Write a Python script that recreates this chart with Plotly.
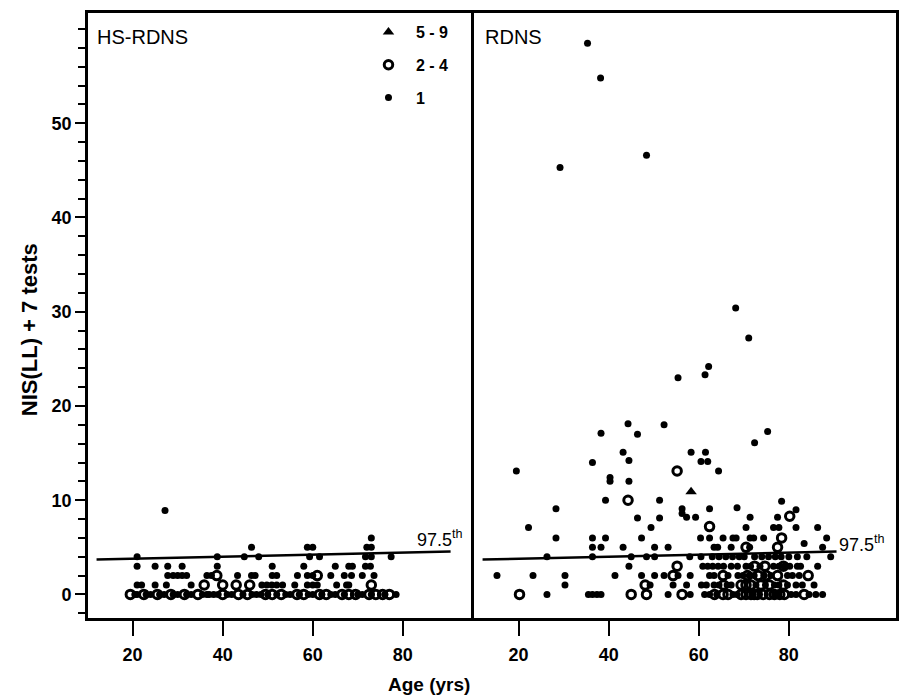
import plotly.graph_objects as go

# ---------------- data (Age in years, NIS(LL)+7 tests) ----------------
# HS-RDNS panel: single observations ("1")
hs_age_1 = [20.5, 21, 23, 24, 26, 27, 29, 30, 32, 33, 35.5, 36.5, 37, 38, 39, 41, 42, 44.5,
            46.5, 47.5, 48.5, 50, 52, 54, 55, 57, 59, 60, 62, 64, 65, 67, 70, 71, 73, 76, 78.5,
            21, 22, 25, 27.5, 33, 48.7, 49.8, 50.9, 52, 53.3, 56, 58.8, 60, 61, 65.3, 67.5, 68,
            27.8, 29, 30, 31, 32, 36.5, 37.5, 43.3, 46.4, 47.2, 51, 52, 56.6, 58.8, 60, 64, 67,
            68.6, 71, 73.6,
            21, 25, 27.8, 31, 38.8, 51, 58, 65, 68, 68.8, 71.7, 72.8,
            21, 38.8, 44.8, 48, 59.3, 61.5, 71.7, 73, 77.4,
            46.4, 58.8, 60, 72, 73, 73, 27.2]
hs_nis_1 = [0] * 37 + [1] * 17 + [2] * 20 + [3] * 12 + [4] * 9 + [5, 5, 5, 5, 5, 6, 8.9]
# HS-RDNS panel: 2-4 coincident observations
hs_age_2 = [19.5, 22.5, 25.5, 28.5, 31.5, 34.5, 40, 43.5, 45.5, 49.5, 51, 53, 56.5, 58, 61.5,
            63, 66.5, 68, 69.5, 72.5, 74, 75.5, 77,
            35.9, 40, 43, 46, 73,
            38.7, 61]
hs_nis_2 = [0] * 23 + [1] * 5 + [2] * 2

# RDNS panel: single observations
rd_age_1 = [35.3, 38.2, 48.4, 29.2, 68.2, 71.1, 62.2, 61.4, 55.4,
            44.3, 52.3, 38.3, 46.4, 75.3, 72.4, 43.2, 44.5, 58.3, 61.5, 60.5, 62, 36.4, 19.5,
            64.4, 40.3, 40.3, 44.5, 39.3, 51.3, 28.3, 56.3, 56.3, 57.3, 62.4, 68.5, 78.4, 81.6,
            22.2, 46.4, 51.3, 59.3, 71.4, 77.5, 49.4, 70.5, 76.6, 77.8, 81.6, 86.4,
            28.3, 36.4, 39.3, 47.3, 60.4, 62.4, 65.4, 67.6, 68.3, 71.4, 72.2, 74.4, 88.4,
            36.4, 38.3, 43.2, 50.2, 53.2, 63.4, 64.2, 67.2, 71.3, 83.4, 87.5,
            26.3, 36.4, 45, 48.4, 50.2, 58, 63, 66, 70.1, 72.4, 78.3, 81.9, 89.3,
            60.5, 64.5, 67.5, 69, 74, 75.5, 77, 80, 84,
            44.5, 60.9, 62, 63.1, 67.2, 70.5, 77.8, 81.9, 82.6, 86.4,
            64.3, 65.5, 68.6, 71.5, 73.6, 76.6, 79, 80.2,
            15.2, 23.2, 30.3, 41.4, 47.3, 50.2, 52.3, 55.4, 58.1, 62.4, 63.4, 66.5, 68.7, 79.7, 82.3,
            69.8, 71.2, 72.3, 74.5, 76, 80.8,
            30.3, 49.2, 54.3, 57.3, 60.6, 61.7, 63.4, 67.2, 77.8, 79.7, 81.6, 85.6,
            64.5, 66.3, 72.7, 74.8, 76.8, 83,
            26.3, 35.5, 36.4, 37.4, 38.3, 53.2, 58.1, 61.3, 62.4, 67.6, 76.9, 86, 87.5,
            64, 68.5, 72, 77.8, 80.5, 81.6, 84.5]
rd_nis_1 = [58.5, 54.8, 46.6, 45.3, 30.4, 27.2, 24.2, 23.3, 23.0,
            18.1, 18.0, 17.1, 17.0, 17.3, 16.1, 15.1, 14.2, 15.1, 15.1, 14.1, 14.1, 14.0, 13.1,
            13.1, 12.4, 12.0, 12.0, 10, 10, 9.1, 9.1, 8.6, 8.2, 9.1, 9.2, 9.9, 9.0,
            7.1, 8.1, 8.1, 8.2, 8.2, 8.2, 7.1, 7.1, 7.1, 7.1, 7.1, 7.1,
            6, 6, 6, 6, 6, 6, 6, 6, 6, 6, 6, 6, 6,
            5, 5, 5, 5, 5, 5, 5, 5, 5, 5.4, 5,
            4, 4, 4, 4, 4, 4, 4, 4, 4, 4, 4, 4, 4,
            4, 4, 4, 4, 4, 4, 4, 4, 4,
            3, 3, 3, 3, 3, 3, 3, 3, 3, 3,
            3, 3, 3, 3, 3, 3, 3, 3,
            2, 2, 2, 2, 2, 2, 2, 2, 2, 2, 2, 2, 2, 2, 2,
            2, 2, 2, 2, 2, 2,
            1, 1, 1, 1, 1, 1, 1, 1, 1, 1, 1, 1,
            1, 1, 1, 1, 1, 1,
            0, 0, 0, 0, 0, 0, 0, 0, 0, 0, 0, 0, 0,
            0, 0, 0, 0, 0, 0, 0]
# RDNS panel: 2-4 coincident observations
rd_age_2 = [55.2, 44.3, 80.2, 62.4, 78.4, 70.5, 77.5, 55.2, 72.4, 74.7, 78.8,
            54.3, 65.4, 73.2, 77.5, 84.3, 70.8, 75,
            48.1, 69.4, 70.5, 71.6, 73.8, 75.7, 65.5, 78.8,
            20.2, 45, 48.4, 56.3, 65.4, 66.5, 69.4, 70.5, 71.6, 73, 74.3, 75.7, 79, 83.4,
            63.5, 72.3, 76.8, 78]
rd_nis_2 = [13.1, 10, 8.3, 7.2, 6, 5, 5, 3, 3, 3, 3,
            2, 2, 2, 2, 2, 2, 2,
            1, 1, 1, 1, 1, 1, 1, 1,
            0, 0, 0, 0, 0, 0, 0, 0, 0, 0, 0, 0, 0, 0,
            0, 0, 0, 0]
# RDNS panel: 5-9 coincident observations
rd_age_5 = [58.3]
rd_nis_5 = [10.9]

# 97.5th percentile line
ref_age = [12, 90.6]
ref_nis = [3.7, 4.55]

group_labels = ["5 - 9", "2 - 4", "1"]
panel_titles = ["HS-RDNS", "RDNS"]
x_ticks = [20, 40, 60, 80]

FONT = "Liberation Sans, Arial, sans-serif"

fig = go.Figure()

single = dict(symbol="circle", size=7, color="black")
multi = dict(symbol="circle-open", size=8.5, color="black", line=dict(width=3, color="black"))
tri = dict(symbol="triangle-up", size=10, color="black")

# left panel
fig.add_trace(go.Scatter(x=hs_age_1, y=hs_nis_1, mode="markers", marker=single,
                         xaxis="x", yaxis="y", showlegend=False))
fig.add_trace(go.Scatter(x=hs_age_2, y=hs_nis_2, mode="markers", marker=multi,
                         xaxis="x", yaxis="y", showlegend=False))
fig.add_trace(go.Scatter(x=ref_age, y=ref_nis, mode="lines", line=dict(color="black", width=2.6),
                         xaxis="x", yaxis="y", showlegend=False))
# right panel
fig.add_trace(go.Scatter(x=rd_age_5, y=rd_nis_5, mode="markers", marker=tri, name=group_labels[0],
                         xaxis="x2", yaxis="y2", legendgroup="a"))
fig.add_trace(go.Scatter(x=rd_age_2, y=rd_nis_2, mode="markers", marker=multi, name=group_labels[1],
                         xaxis="x2", yaxis="y2", legendgroup="b"))
fig.add_trace(go.Scatter(x=rd_age_1, y=rd_nis_1, mode="markers", marker=single, name=group_labels[2],
                         xaxis="x2", yaxis="y2", legendgroup="c"))
fig.add_trace(go.Scatter(x=ref_age, y=ref_nis, mode="lines", line=dict(color="black", width=2.6),
                         xaxis="x2", yaxis="y2", showlegend=False))

W, H = 899, 695
ml, mr, mt, mb = 88, 0, 13, 77
pw = W - ml - mr
ph = H - mt - mb
split = (475 - ml) / pw

def px_x(p):
    return (p - ml) / pw

def px_y(p):
    return (H - mb - p) / ph

xcommon = dict(showline=True, linewidth=2.6, linecolor="black", mirror=True,
               ticks="outside", ticklen=15, tickwidth=2, tickcolor="black",
               tickvals=x_ticks, showgrid=False, zeroline=False,
               tickfont=dict(family=FONT, size=18, color="black", weight="bold"),
               ticklabelstandoff=4)

fig.update_layout(
    width=W, height=H,
    margin=dict(l=ml, r=mr, t=mt, b=mb),
    paper_bgcolor="white", plot_bgcolor="white",
    font=dict(family=FONT, color="black"),
    xaxis=dict(domain=[0, split], range=[10.1, 95.7], **xcommon),
    xaxis2=dict(domain=[split, 1], range=[10.0, 103.8], anchor="y2", **xcommon),
    yaxis=dict(range=[-2.5, 61.7], showline=True, linewidth=2.6, linecolor="black", mirror=False,
               ticks="outside", ticklen=10, tickwidth=1.5, tickcolor="black",
               tickvals=[0, 10, 20, 30, 40, 50], showgrid=False, zeroline=False,
               minor=dict(dtick=2, tick0=0, ticks="outside", ticklen=7, tickwidth=1.5, tickcolor="black"),
               tickfont=dict(family=FONT, size=18, color="black", weight="bold"),
               ticklabelstandoff=0),
    yaxis2=dict(range=[-2.5, 61.7], anchor="x2", matches="y", showline=True, linewidth=2.6,
                linecolor="black", mirror=True, ticks="", showticklabels=False,
                showgrid=False, zeroline=False),
    legend=dict(x=px_x(362), y=px_y(15), xanchor="left", yanchor="top",
                bgcolor="rgba(0,0,0,0)", borderwidth=0, itemwidth=45,
                traceorder="grouped", tracegroupgap=9,
                font=dict(family=FONT, size=16, color="black", weight="bold")),
    annotations=[
        dict(text=panel_titles[0], xref="paper", yref="paper", x=px_x(95), y=px_y(37),
             xanchor="left", yanchor="middle", showarrow=False,
             font=dict(family=FONT, size=20, color="black")),
        dict(text=panel_titles[1], xref="paper", yref="paper", x=px_x(484), y=px_y(37),
             xanchor="left", yanchor="middle", showarrow=False,
             font=dict(family=FONT, size=20, color="black")),
        dict(text="97.5<sup>th</sup>", xref="x", yref="y", x=ref_age[1], y=ref_nis[1],
             xanchor="right", yanchor="bottom", showarrow=False, xshift=14, yshift=0,
             font=dict(family=FONT, size=18, color="black")),
        dict(text="97.5<sup>th</sup>", xref="x2", yref="y2", x=ref_age[1], y=ref_nis[1],
             xanchor="left", yanchor="middle", showarrow=False, xshift=0, yshift=8,
             font=dict(family=FONT, size=18, color="black")),
        dict(text="NIS(LL) + 7 tests", xref="paper", yref="paper", x=px_x(30), y=px_y(330),
             xanchor="center", yanchor="middle", textangle=-90, showarrow=False,
             font=dict(family=FONT, size=22, color="black", weight="bold")),
        dict(text="Age (yrs)", xref="paper", yref="paper", x=px_x(430), y=px_y(684),
             xanchor="center", yanchor="middle", showarrow=False,
             font=dict(family=FONT, size=19, color="black", weight="bold")),
    ],
)

fig.write_html(
    "out.html",
    config={"displayModeBar": False},
    post_script=("document.body.style.margin='0';document.body.style.padding='0';"
                 "document.body.style.overflow='hidden';"
                 "document.documentElement.style.overflow='hidden';"),
)
